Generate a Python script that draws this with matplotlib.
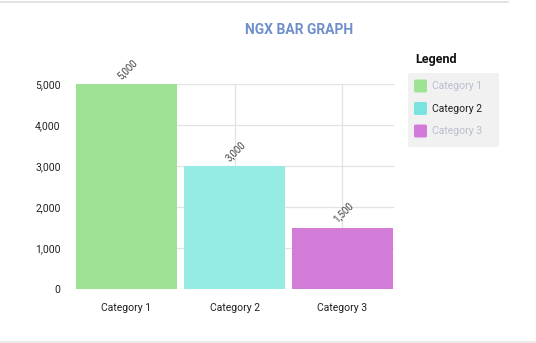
import matplotlib.pyplot as plt
from matplotlib.patches import FancyBboxPatch
from matplotlib.lines import Line2D

# data
categories = ["Category 1", "Category 2", "Category 3"]
values = [5000, 3000, 1500]
value_labels = ["5,000", "3,000", "1,500"]
bar_colors = ["#9de393", "#97ebe5", "#d27cd8"]
swatch_colors = ["#9de393", "#79e3df", "#d27ad9"]
legend_text_colors = ["#b9bfcf", "#222222", "#b9bfcf"]
yticks = [0, 1000, 2000, 3000, 4000, 5000]
ytick_labels = ["0", "1,000", "2,000", "3,000", "4,000", "5,000"]

plt.rcParams['font.family'] = ['Roboto', 'DejaVu Sans']

W, H = 536, 343
fig = plt.figure(figsize=(W / 100, H / 100), dpi=100)

def fx(px):
    return px / W

def fy(py):
    return 1 - py / H

ax = fig.add_axes([fx(76), fy(289), fx(394) - fx(76), fy(84) - fy(289)])
x = list(range(len(categories)))
ax.bar(x, values, width=0.935, color=bar_colors, zorder=2)
ax.set_xlim(-0.468, 2.477)
ax.set_ylim(0, 5000)
ax.set_yticks(yticks)
ax.set_yticklabels(ytick_labels)
ax.set_xticks(x)
ax.set_xticklabels(categories)
ax.tick_params(axis='both', length=0, labelsize=7.5, colors='#222222')
ax.tick_params(axis='x', pad=10)
ax.tick_params(axis='y', pad=11)
for s in ax.spines.values():
    s.set_visible(False)
ax.grid(True, color='#e2e2e2', linewidth=0.9, zorder=0)
ax.set_axisbelow(True)

for xi, v, lab in zip(x, values, value_labels):
    ax.annotate(lab, (xi, v), xytext=(-4, 3), textcoords='offset pixels',
                rotation=45, rotation_mode='anchor', ha='left', va='bottom',
                fontsize=7, color='#444444')

# title
fig.text(fx(299), fy(30), "NGX BAR GRAPH", ha='center', va='center',
         fontsize=10, fontweight='bold', color='#6f8fcb')

# frame lines
fig.add_artist(Line2D([fx(0), fx(508)], [fy(1.5), fy(1.5)], color='#dddddd', linewidth=1.2))
fig.add_artist(Line2D([fx(0), fx(536)], [fy(341.5), fy(341.5)], color='#e6e6e6', linewidth=1.2))

# legend
fig.text(fx(415), fy(60), "Legend", ha='left', va='center',
         fontsize=9, fontweight='bold', color='#111111')
box = FancyBboxPatch((fx(408), fy(147)), fx(499) - fx(408), fy(73) - fy(147),
                     boxstyle="round,pad=0,rounding_size=0.005",
                     transform=fig.transFigure, facecolor='#f1f1f1', edgecolor='none')
fig.add_artist(box)
for i, (cat, sc, tc) in enumerate(zip(categories, swatch_colors, legend_text_colors)):
    cy = 86 + i * 22.5
    sw = FancyBboxPatch((fx(414), fy(cy + 6.5)), fx(13), 13 / H,
                        boxstyle="round,pad=0,rounding_size=0.004",
                        transform=fig.transFigure, facecolor=sc, edgecolor='none')
    fig.add_artist(sw)
    fig.text(fx(432), fy(cy), cat, ha='left', va='center', fontsize=7.5, color=tc)

fig.savefig("out.png", dpi=100)
